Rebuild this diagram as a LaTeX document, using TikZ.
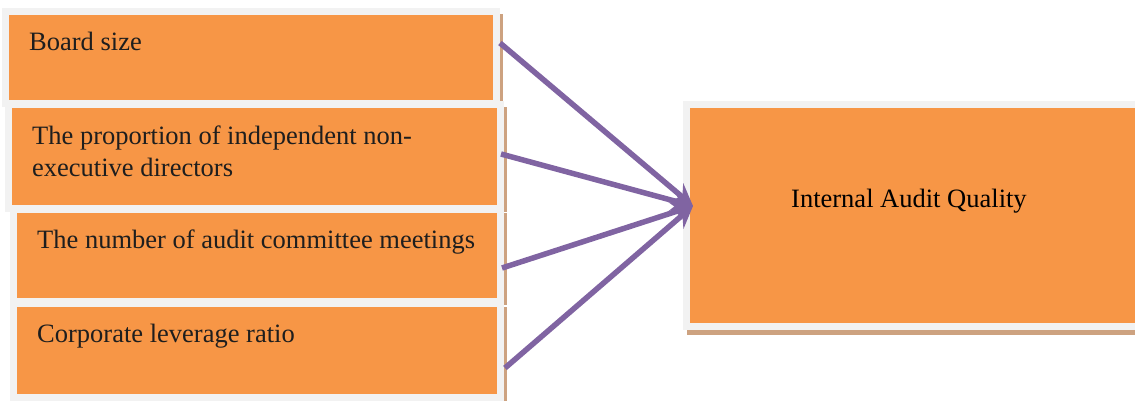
\documentclass[tikz,border=0pt]{standalone}
\usepackage{fontspec}
\setmainfont{Liberation Serif}
\usetikzlibrary{arrows.meta,shadows}
\definecolor{boxorange}{HTML}{F79646}
\definecolor{boxgray}{HTML}{F2F2F2}
\definecolor{shadowtan}{RGB}{205,162,128}
\definecolor{arrowpurple}{HTML}{8064A2}
\definecolor{txtdark}{RGB}{30,30,30}
\begin{document}
\begin{tikzpicture}[x=1pt,y=-1pt,
  box/.style={rectangle, draw=boxgray, fill=boxorange, line width=7pt, inner sep=0pt, outer sep=0pt},
  lshadow/.style={general shadow={fill=shadowtan, shadow xshift=6.5pt, shadow yshift=-3pt}},
  rshadow/.style={general shadow={fill=shadowtan, shadow xshift=0pt, shadow yshift=-8pt}},
  lbl/.style={anchor=base west, inner sep=0pt, font=\rmfamily\fontsize{26.5}{32}\selectfont, text=txtdark, align=left},
  conn/.style={draw=arrowpurple, line width=5.5pt, -{Stealth[length=22pt,width=22pt,inset=8pt]}}]
\useasboundingbox (0,0) rectangle (1135,401);
\clip (0,0) rectangle (1135,401);
% left boxes
\node[box, lshadow, minimum width=491pt, minimum height=92pt] (b1) at (251,57.5) {};
\node[box, lshadow, minimum width=492pt, minimum height=104pt] (b2) at (254.5,156.5) {};
\node[box, lshadow, minimum width=487pt, minimum height=92pt] (b3) at (257,255.5) {};
\node[box, lshadow, minimum width=487pt, minimum height=94pt] (b4) at (257,350.5) {};
% right box
\node[box, rshadow, minimum width=452.5pt, minimum height=221.5pt] (iaq) at (912.75,215.75) {};
% labels
\node[lbl] (t1) at (29,51) {Board size};
\node[lbl] (t2) at (32,176) {The proportion of independent non-\\executive directors};
\node[lbl] (t3) at (37,248) {The number of audit committee meetings};
\node[lbl] (t4) at (37,342) {Corporate leverage ratio};
\node[lbl, text=black] (t5) at (791,207) {Internal Audit Quality};
% connectors
\coordinate (tip) at ([xshift=6.5pt,yshift=9.75pt]iaq.west);
\draw[conn] ([xshift=3.5pt,yshift=14.5pt]b1.east) -- (tip);
\draw[conn] ([xshift=0.5pt,yshift=2.5pt]b2.east) -- (tip);
\draw[conn] ([xshift=1.5pt,yshift=-12.5pt]b3.east) -- (tip);
\draw[conn] ([xshift=4.5pt,yshift=-17.5pt]b4.east) -- (tip);
\end{tikzpicture}
\end{document}
